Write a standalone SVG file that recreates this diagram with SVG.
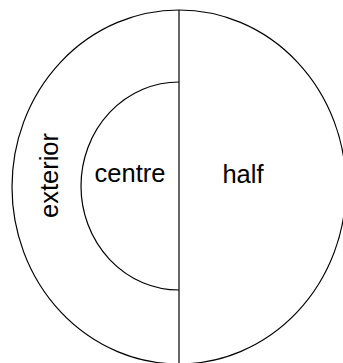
<svg xmlns="http://www.w3.org/2000/svg" width="343" height="363" viewBox="0 0 343 363">
<style>
.ln{fill:none;stroke:#000;stroke-width:1.2}
.t{font-family:"Liberation Sans",Arial,sans-serif;font-size:25.5px;fill:#000}
</style>
<rect width="343" height="363" fill="#fff"/>
<g id="exterior">
<ellipse class="ln" cx="179" cy="187" rx="167" ry="177"/>
<text class="t" transform="translate(57.5,175.5) rotate(-90)" text-anchor="middle">exterior</text>
</g>
<g id="centre">
<path class="ln" d="M179,82 A98,104 0 0 0 179,290"/>
<text class="t" x="130" y="182" text-anchor="middle">centre</text>
</g>
<g id="half">
<text class="t" x="243" y="183" text-anchor="middle">half</text>
</g>
<g id="connectors">
<line class="ln" x1="179" y1="10" x2="179" y2="363"/>
</g>
</svg>
